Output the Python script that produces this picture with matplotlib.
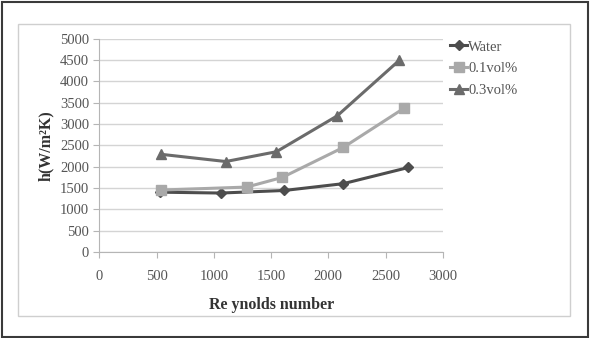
import matplotlib
matplotlib.use("Agg")
import matplotlib.pyplot as plt
from matplotlib.patches import Rectangle

plt.rcParams['font.family'] = ['Liberation Serif', 'DejaVu Serif']

series_names = ["Water", "0.1vol%", "0.3vol%"]
re_water = [530, 1060, 1615, 2130, 2700]
h_water = [1400, 1380, 1440, 1600, 1980]
re_01 = [534, 1286, 1596, 2130, 2660]
h_01 = [1450, 1520, 1745, 2450, 3370]
re_03 = [537, 1104, 1546, 2076, 2621]
h_03 = [2290, 2120, 2350, 3190, 4500]
x_ticks = [0, 500, 1000, 1500, 2000, 2500, 3000]
y_ticks = [0, 500, 1000, 1500, 2000, 2500, 3000, 3500, 4000, 4500, 5000]

fig = plt.figure(figsize=(5.92, 3.38), dpi=100)
fig.patch.set_facecolor('white')
fig.patches.append(Rectangle((0.003, 0.004), 0.990, 0.990, transform=fig.transFigure,
                             fill=False, edgecolor='#3a3a3a', linewidth=1.5))
fig.patches.append(Rectangle((0.030, 0.065), 0.933, 0.864, transform=fig.transFigure,
                             fill=False, edgecolor='#cfcfcf', linewidth=1.0))

ax = fig.add_axes([0.168, 0.255, 0.580, 0.630])
ax.plot(re_water, h_water, color='#4d4d4d', marker='D', markersize=5.5, linewidth=2.2, label=series_names[0])
ax.plot(re_01, h_01, color='#a9a9a9', marker='s', markersize=6.5, linewidth=2.2, label=series_names[1])
ax.plot(re_03, h_03, color='#6b6b6b', marker='^', markersize=7, linewidth=2.2, label=series_names[2])

ax.set_xlim(0, 3000)
ax.set_ylim(0, 5000)
ax.set_xticks(x_ticks)
ax.set_yticks(y_ticks)
ax.grid(axis='y', color='#d4d4d4', linewidth=1.0)
ax.set_axisbelow(True)
for s in ['top', 'right']:
    ax.spines[s].set_visible(False)
for s in ['left', 'bottom']:
    ax.spines[s].set_color('#b5b5b5')
ax.tick_params(axis='both', colors='#b5b5b5', labelcolor='#555555', labelsize=10.5, length=4)
ax.tick_params(axis='x', pad=9)
ax.set_xlabel('Re ynolds number', fontsize=11.5, fontweight='bold', color='#333333', labelpad=10)
ax.set_ylabel('h(W/m²K)', fontsize=11.5, fontweight='bold', color='#333333', labelpad=4)

leg = ax.legend(loc='upper left', bbox_to_anchor=(0.750, 0.898), bbox_transform=fig.transFigure,
                frameon=False, fontsize=10.5, handlelength=1.2, handletextpad=0.05,
                labelspacing=0.58, borderaxespad=0)
for t in leg.get_texts():
    t.set_color('#555555')

fig.savefig('out.png', dpi=100, facecolor='white')
